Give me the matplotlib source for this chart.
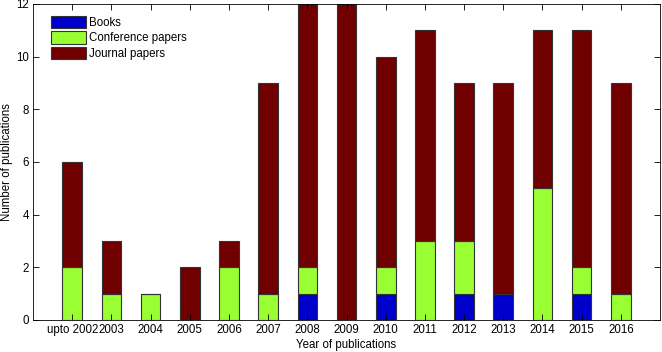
import numpy as np
import matplotlib
matplotlib.use("Agg")
import matplotlib.pyplot as plt

# -------------------------
# Data
# -------------------------
years = ["upto 2002", "2003", "2004", "2005", "2006", "2007", "2008", "2009",
         "2010", "2011", "2012", "2013", "2014", "2015", "2016"]
books = [0, 0, 0, 0, 0, 0, 1, 0, 1, 0, 1, 1, 0, 1, 0]
conference = [2, 1, 1, 0, 2, 1, 1, 0, 1, 3, 2, 0, 5, 1, 1]
journal = [4, 2, 0, 2, 1, 8, 10, 12, 8, 8, 6, 8, 6, 9, 8]

# -------------------------
# Plot
# -------------------------
plt.rcParams["font.family"] = ["Liberation Sans", "DejaVu Sans"]
plt.rcParams["font.size"] = 8.3

fig = plt.figure(figsize=(6.62, 3.52), dpi=100)
ax = fig.add_axes([0.05, 0.091, 0.947, 0.898])

x = np.arange(1, len(years) + 1)
b = np.array(books, dtype=float)
c = np.array(conference, dtype=float)
j = np.array(journal, dtype=float)
w = 0.5
ec = "#333333"
ax.bar(x, b, w, color="#0000CC", edgecolor=ec, linewidth=0.8, label="Books")
ax.bar(x, c, w, bottom=b, color="#99FF33", edgecolor=ec, linewidth=0.8, label="Conference papers")
ax.bar(x, j, w, bottom=b + c, color="#700000", edgecolor=ec, linewidth=0.8, label="Journal papers")

ax.set_xlim(0, 16)
ax.set_ylim(0, 12)
ax.set_xticks(x)
ax.set_xticklabels(years)
ax.set_yticks(np.arange(0, 13, 2))
ax.tick_params(direction="in", top=True, right=True, length=4, width=0.6, pad=3)
for s in ax.spines.values():
    s.set_linewidth(0.6)
ax.set_xlabel("Year of publications", labelpad=2)
ax.set_ylabel("Number of publications", labelpad=2)

ax.legend(loc="upper left", frameon=False, handlelength=3.0, handleheight=1.25,
          bbox_to_anchor=(0.018, 0.985), borderpad=0.4, borderaxespad=0.2,
          handletextpad=0.3, labelspacing=0.25, fontsize=8.3)

fig.savefig("out.png", dpi=100)
